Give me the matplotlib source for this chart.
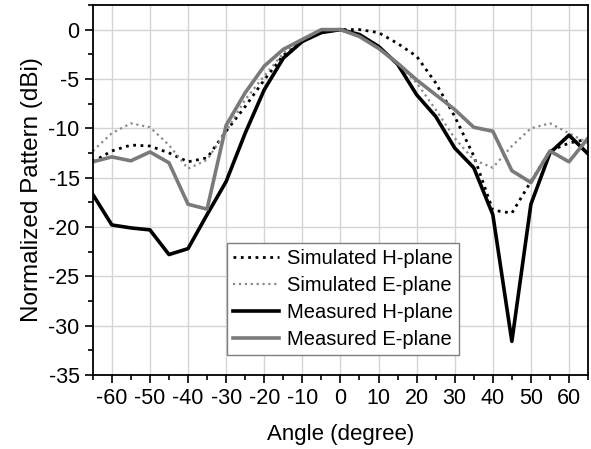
import matplotlib
matplotlib.use('Agg')
import matplotlib.pyplot as plt
from matplotlib.ticker import MultipleLocator

plt.rc('font', family='Liberation Sans')
plt.rc('axes', unicode_minus=False)

# Radiation pattern cuts, sampled every 5 degrees
angle = [-65, -60, -55, -50, -45, -40, -35, -30, -25, -20, -15, -10, -5, 0,
         5, 10, 15, 20, 25, 30, 35, 40, 45, 50, 55, 60, 65]
sim_h = [-13.4, -12.3, -11.7, -11.8, -12.5, -13.4, -13.0, -10.3, -7.8, -5.1, -2.6, -1.2, -0.3, 0.0,
         0.0, -0.3, -1.4, -2.7, -5.4, -8.8, -12.8, -18.3, -18.6, -15.4, -12.3, -11.5, -11.1]
sim_e = [-12.3, -10.5, -9.5, -9.9, -11.7, -14.1, -13.2, -10.3, -7.1, -4.7, -2.4, -1.0, -0.3, 0.0,
         -0.7, -1.7, -3.5, -5.4, -8.1, -11.0, -13.2, -14.0, -11.8, -10.0, -9.5, -10.5, -11.5]
meas_h = [-16.7, -19.8, -20.1, -20.3, -22.8, -22.2, -18.75, -15.4, -10.5, -6.1, -2.9, -1.2, -0.3, 0.0,
          -0.5, -1.7, -3.5, -6.6, -8.8, -12.0, -14.0, -18.75, -31.6, -17.7, -12.5, -10.7, -12.6]
meas_e = [-13.4, -12.9, -13.3, -12.4, -13.5, -17.7, -18.2, -9.7, -6.4, -3.7, -2.0, -1.0, 0.0, 0.0,
          -0.7, -1.9, -3.4, -5.1, -6.6, -8.1, -9.9, -10.3, -14.3, -15.5, -12.3, -13.4, -11.0]

fig = plt.figure(figsize=(5.91, 4.49), dpi=100)
ax = fig.add_axes([0.157, 0.165, 0.838, 0.824])

ax.plot(angle, sim_h, color='black', linestyle=':', linewidth=2.0, label='Simulated H-plane')
ax.plot(angle, sim_e, color='#8a8a8a', linestyle=':', linewidth=1.6, label='Simulated E-plane')
ax.plot(angle, meas_h, color='black', linewidth=2.6, label='Measured H-plane')
ax.plot(angle, meas_e, color='#7a7a7a', linewidth=2.6, label='Measured E-plane')

ax.set_xlim(-65, 65)
ax.set_ylim(-35, 2.5)
ax.xaxis.set_major_locator(MultipleLocator(10))
ax.xaxis.set_minor_locator(MultipleLocator(5))
ax.yaxis.set_major_locator(MultipleLocator(5))
ax.yaxis.set_minor_locator(MultipleLocator(2.5))
ax.tick_params(which='major', direction='out', length=5.5, width=1.2, labelsize=15.5, pad=4)
ax.tick_params(which='minor', direction='out', length=3.5, width=1.2)
ax.grid(True, which='major', color='#d4d4d4', linewidth=1.0)
ax.set_axisbelow(True)
for s in ax.spines.values():
    s.set_linewidth(1.3)

ax.set_xlabel('Angle (degree)', fontsize=16, labelpad=11)
ax.set_ylabel('Normalized Pattern (dBi)', fontsize=17.5, labelpad=4)

leg = ax.legend(loc='lower left', bbox_to_anchor=(0.271, 0.054), borderaxespad=0,
                fontsize=14.5, fancybox=False, framealpha=1, edgecolor='#7f7f7f',
                handlelength=2.3, handletextpad=0.4, labelspacing=0.4, borderpad=0.3)
leg.get_frame().set_linewidth(1.0)

fig.savefig('out.png', dpi=100)
plt.close(fig)
